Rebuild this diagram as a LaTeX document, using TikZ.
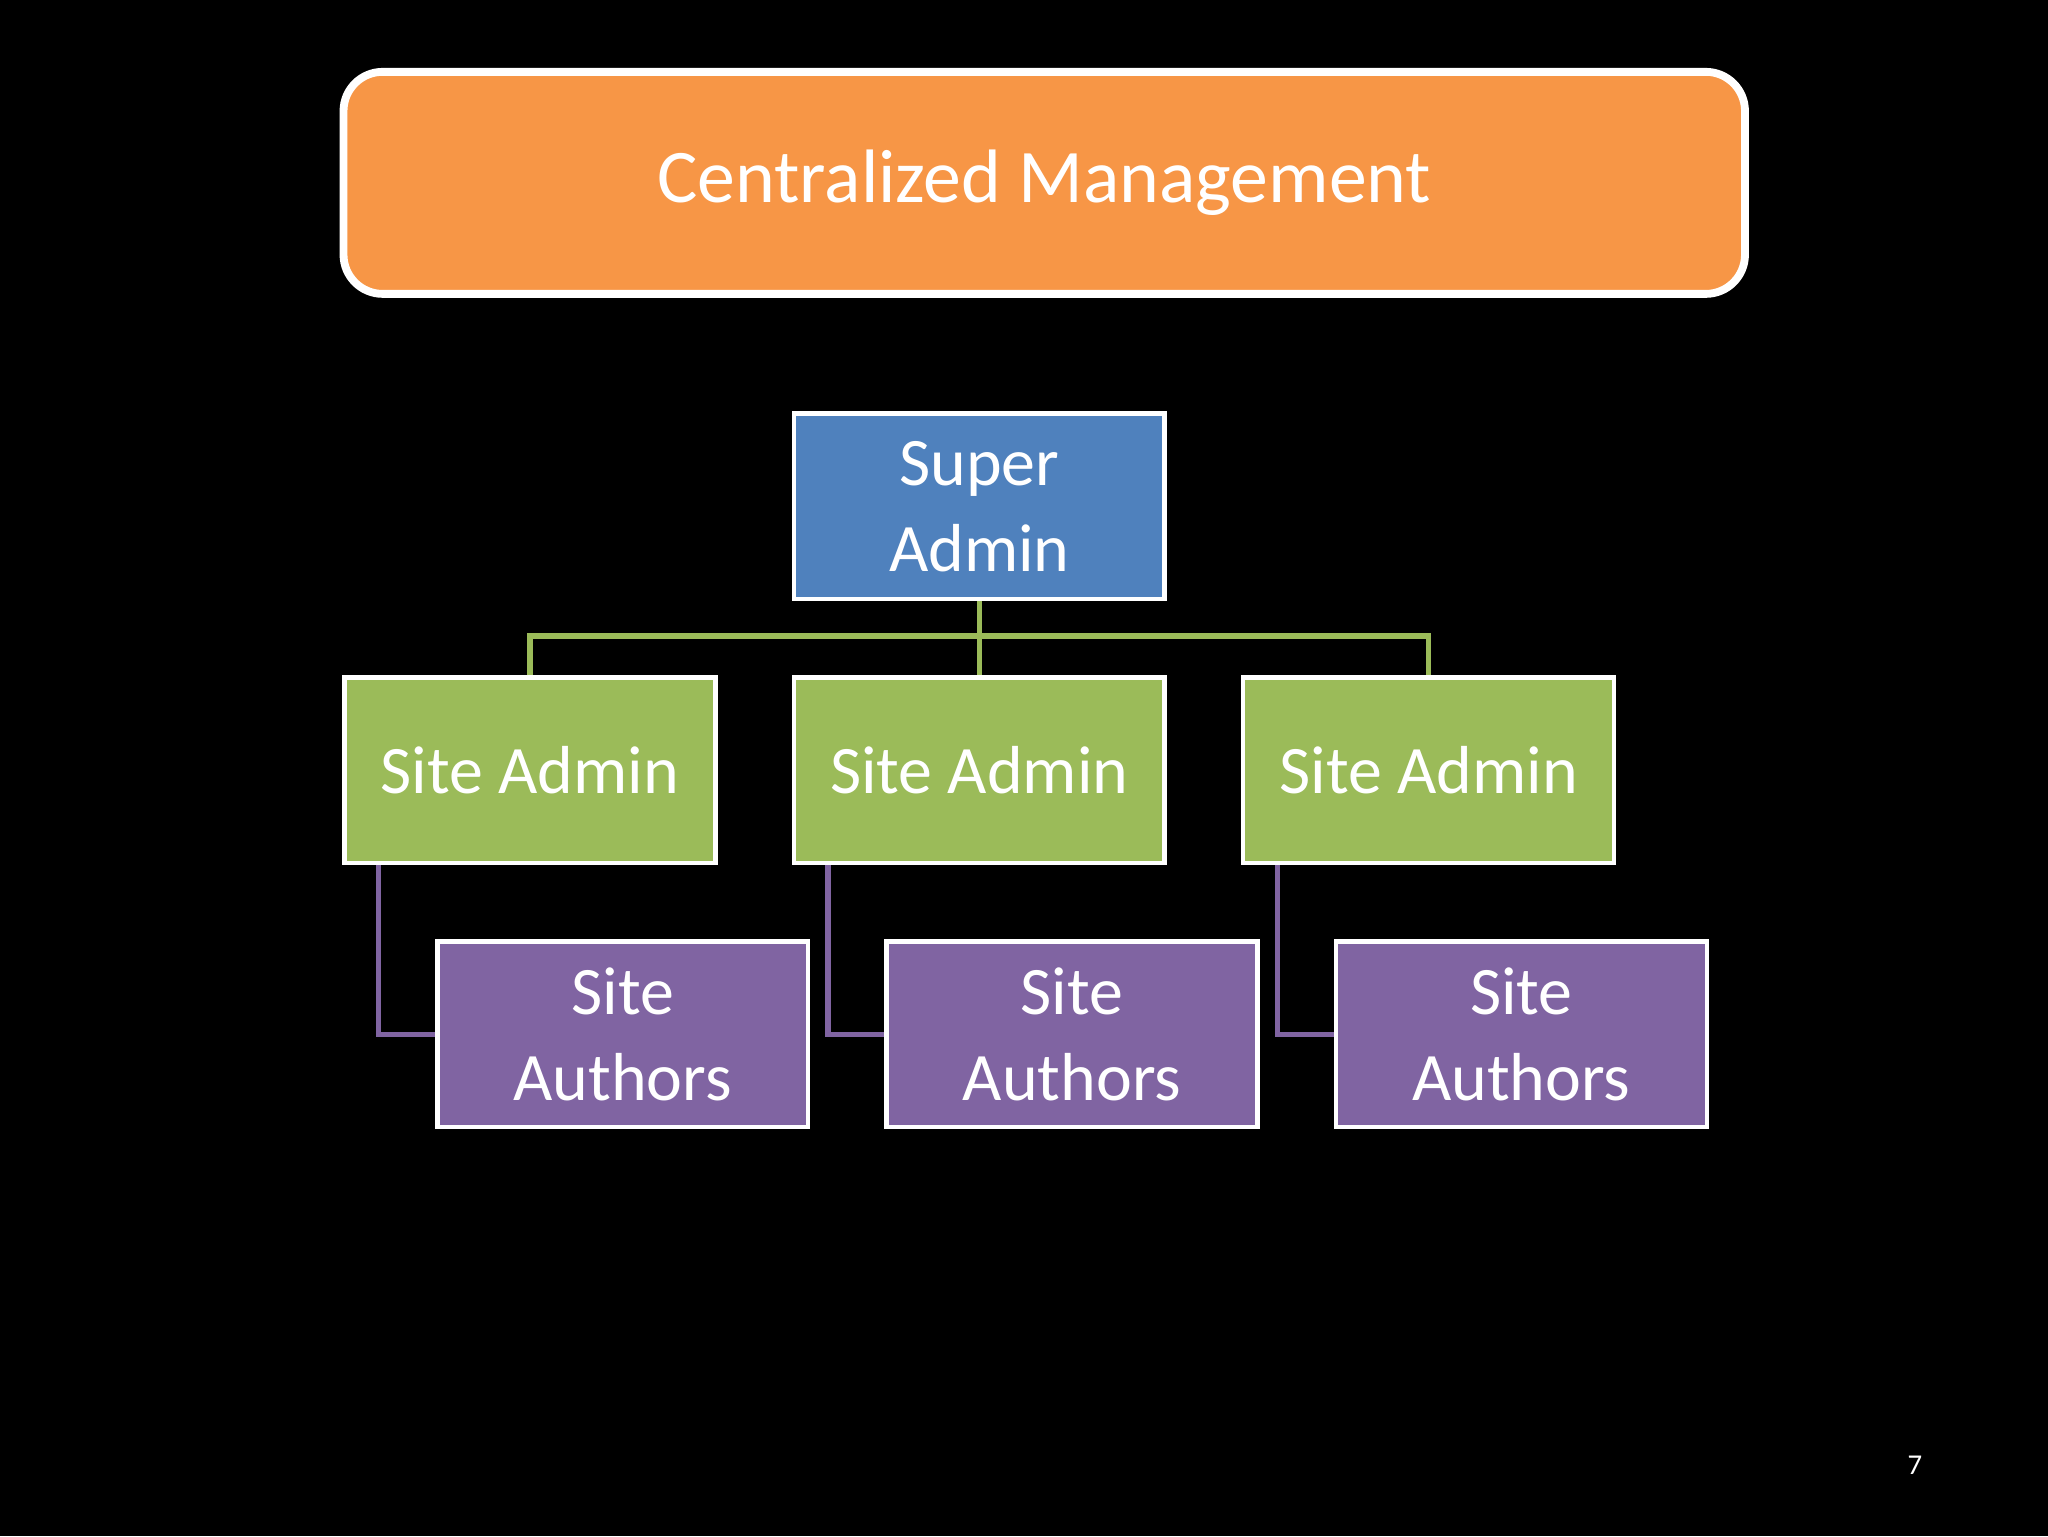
\documentclass[tikz,border=0pt]{standalone}
\usepackage{fontspec}
\setmainfont{Carlito}
\definecolor{orng}{HTML}{F79646}
\definecolor{blu}{HTML}{4F81BD}
\definecolor{grn}{HTML}{9BBB59}
\definecolor{purp}{HTML}{8064A2}
\begin{document}
\begin{tikzpicture}[x=1pt,y=-1pt,
  box/.style={draw=white,line width=3.5pt,minimum width=284pt,minimum height=142pt,anchor=north west,text=white,inner sep=0pt,font=\fontsize{52}{66}\selectfont,align=center},
  gline/.style={draw=grn,line width=4pt},
  pline/.style={draw=purp,line width=4pt}]
\fill[black] (0,0) rectangle (1568,1176);
\node[draw=white,line width=6pt,fill=orng,rounded corners=30pt,minimum width=1073pt,minimum height=170pt,anchor=north west,text=white,font=\fontsize{58}{70}\selectfont] (title) at (260,52) {Centralized Management};
\node[box,fill=blu] (sup) at (606,315) {Super\\Admin};
\node[box,fill=grn] (a1) at (262,517) {Site Admin};
\node[box,fill=grn] (a2) at (606,517) {Site Admin};
\node[box,fill=grn] (a3) at (950,517) {Site Admin};
\node[box,fill=purp] (u1) at (333,719) {Site\\Authors};
\node[box,fill=purp] (u2) at (677,719) {Site\\Authors};
\node[box,fill=purp] (u3) at (1021,719) {Site\\Authors};
\coordinate (j) at (748,487);
\begin{scope}[on background layer/.style={}]
\draw[gline] (sup.south) -- (a2.north);
\draw[gline] (a1.north) |- (j) -| (a3.north);
\draw[pline] ([xshift=28pt]a1.south west) |- (u1.west);
\draw[pline] ([xshift=28pt]a2.south west) |- (u2.west);
\draw[pline] ([xshift=28pt]a3.south west) |- (u3.west);
\end{scope}
\node[text=white,font=\fontsize{22}{26}\selectfont] (pg) at (1466,1122) {7};
\end{tikzpicture}
\end{document}
